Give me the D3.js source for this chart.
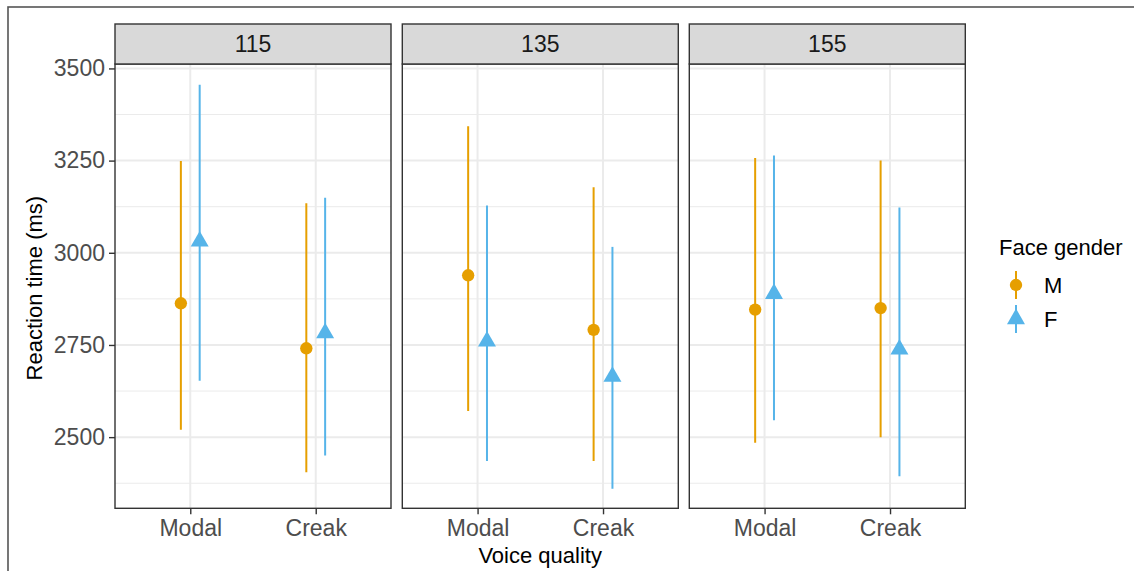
<!DOCTYPE html>
<html>
<head>
<meta charset="utf-8">
<script src="https://cdn.jsdelivr.net/npm/d3@7"></script>
<style>
  body { margin: 0; background: #fff; }
  svg { display: block; font-family: "Liberation Sans", Arial, sans-serif; }
</style>
</head>
<body>
<div id="chart"></div>
<script>
// facets (pitch), x categories, groups
const facets = ['115', '135', '155'];
const voice = ['Modal', 'Creak'];
const genders = ['M', 'F'];

// one row per facet, one value per voice quality
const mMean = [[2863, 2741], [2939, 2791], [2846, 2850]];
const mLow = [[2520, 2405], [2571, 2435], [2485, 2500]];
const mHigh = [[3249, 3134], [3343, 3178], [3257, 3250]];
const fMean = [[3031, 2782], [2760, 2664], [2889, 2738]];
const fLow = [[2653, 2450], [2435, 2360], [2546, 2394]];
const fHigh = [[3456, 3149], [3128, 3016], [3264, 3123]];

const yTicks = [2500, 2750, 3000, 3250, 3500];
const yMinor = [2375, 2625, 2875, 3125, 3375];
const yDomain = [2307, 3512];

const colors = { M: '#E69F00', F: '#56B4E9' };

const width = 1134, height = 571;
const panelTop = 64, panelBottom = 508.3, stripH = 40;
const panelLeft = [115, 402.3, 689.3], panelW = 276;
const dodge = 0.075;

const svg = d3.select('#chart').append('svg').attr('width', width).attr('height', height);

// figure frame
svg.append('rect')
  .attr('x', 8).attr('y', 7).attr('width', 1200).attr('height', 700)
  .attr('fill', 'none').attr('stroke', '#555').attr('stroke-width', 1.6);

const y = d3.scaleLinear().domain(yDomain).range([panelBottom, panelTop]);

const rows = [];
facets.forEach((f, i) => {
  voice.forEach((v, j) => {
    rows.push({ facet: i, voice: v, g: 'M', mean: mMean[i][j], lo: mLow[i][j], hi: mHigh[i][j] });
    rows.push({ facet: i, voice: v, g: 'F', mean: fMean[i][j], lo: fLow[i][j], hi: fHigh[i][j] });
  });
});

const circle = d3.symbol().type(d3.symbolCircle).size(120);
const tri = d3.symbol().type(d3.symbolTriangle).size(140);

facets.forEach((f, i) => {
  const x = d3.scalePoint().domain(voice).range([0, panelW]).padding(0.6);
  const g = svg.append('g').attr('transform', `translate(${panelLeft[i]},0)`);

  // grid
  g.append('g').selectAll('line.minor').data(yMinor).join('line')
    .attr('x1', 0).attr('x2', panelW)
    .attr('y1', d => y(d)).attr('y2', d => y(d))
    .attr('stroke', '#EBEBEB').attr('stroke-width', 1);
  g.append('g').selectAll('line.major').data(yTicks).join('line')
    .attr('x1', 0).attr('x2', panelW)
    .attr('y1', d => y(d)).attr('y2', d => y(d))
    .attr('stroke', '#EBEBEB').attr('stroke-width', 2);
  g.append('g').selectAll('line').data(voice).join('line')
    .attr('x1', d => x(d)).attr('x2', d => x(d))
    .attr('y1', panelTop).attr('y2', panelBottom)
    .attr('stroke', '#EBEBEB').attr('stroke-width', 2);

  // point ranges
  const data = rows.filter(r => r.facet === i);
  const px = d => x(d.voice) + (d.g === 'M' ? -dodge : dodge) * x.step();
  g.append('g').selectAll('line').data(data).join('line')
    .attr('x1', px).attr('x2', px)
    .attr('y1', d => y(d.lo)).attr('y2', d => y(d.hi))
    .attr('stroke', d => colors[d.g]).attr('stroke-width', 2);
  g.append('g').selectAll('path').data(data).join('path')
    .attr('transform', d => `translate(${px(d)},${y(d.mean)})`)
    .attr('d', d => d.g === 'M' ? circle() : tri())
    .attr('fill', d => colors[d.g]);

  // panel border
  g.append('rect').attr('x', 0).attr('y', panelTop).attr('width', panelW)
    .attr('height', panelBottom - panelTop)
    .attr('fill', 'none').attr('stroke', '#333').attr('stroke-width', 1.4);

  // strip
  g.append('rect').attr('x', 0).attr('y', panelTop - stripH).attr('width', panelW).attr('height', stripH)
    .attr('fill', '#D9D9D9').attr('stroke', '#333').attr('stroke-width', 1.4);
  g.append('text').attr('x', panelW / 2).attr('y', panelTop - stripH / 2)
    .attr('dy', '0.35em').attr('text-anchor', 'middle')
    .attr('font-size', 23).attr('fill', '#1A1A1A').text(f);

  // x axis
  const xa = g.append('g').attr('transform', `translate(0,${panelBottom})`)
    .call(d3.axisBottom(x).tickSize(6).tickPadding(5));
  xa.select('.domain').remove();
  xa.selectAll('line').attr('stroke', '#333').attr('stroke-width', 1.4);
  xa.selectAll('text').attr('font-size', 23).attr('fill', '#4D4D4D')
    .attr('font-family', '"Liberation Sans", Arial, sans-serif');

  if (i === 0) {
    const ya = g.append('g')
      .call(d3.axisLeft(y).tickValues(yTicks).tickFormat(d3.format('d')).tickSize(6).tickPadding(4));
    ya.select('.domain').remove();
    ya.selectAll('line').attr('stroke', '#333').attr('stroke-width', 1.4);
    ya.selectAll('text').attr('font-size', 23).attr('fill', '#4D4D4D')
      .attr('font-family', '"Liberation Sans", Arial, sans-serif');
  }
});

// axis titles
svg.append('text').attr('x', (panelLeft[0] + panelLeft[2] + panelW) / 2).attr('y', 563)
  .attr('text-anchor', 'middle').attr('font-size', 22).attr('fill', '#000').text('Voice quality');
svg.append('text')
  .attr('transform', `translate(42,${(panelTop - stripH / 2 + panelBottom) / 2 + 12}) rotate(-90)`)
  .attr('text-anchor', 'middle').attr('font-size', 22).attr('fill', '#000').text('Reaction time (ms)');

// legend
const leg = svg.append('g');
leg.append('text').attr('x', 999).attr('y', 255).attr('font-size', 22).attr('fill', '#000').text('Face gender');
const keyY = [285, 319];
genders.forEach((gname, k) => {
  const ky = keyY[k];
  leg.append('line').attr('x1', 1016).attr('x2', 1016).attr('y1', ky - 14).attr('y2', ky + 14)
    .attr('stroke', colors[gname]).attr('stroke-width', 2);
  leg.append('path').attr('transform', `translate(1016,${ky})`)
    .attr('d', gname === 'M' ? circle() : tri()).attr('fill', colors[gname]);
  leg.append('text').attr('x', 1044).attr('y', ky).attr('dy', '0.36em')
    .attr('font-size', 22).attr('fill', '#000').text(gname);
});
</script>
</body>
</html>
